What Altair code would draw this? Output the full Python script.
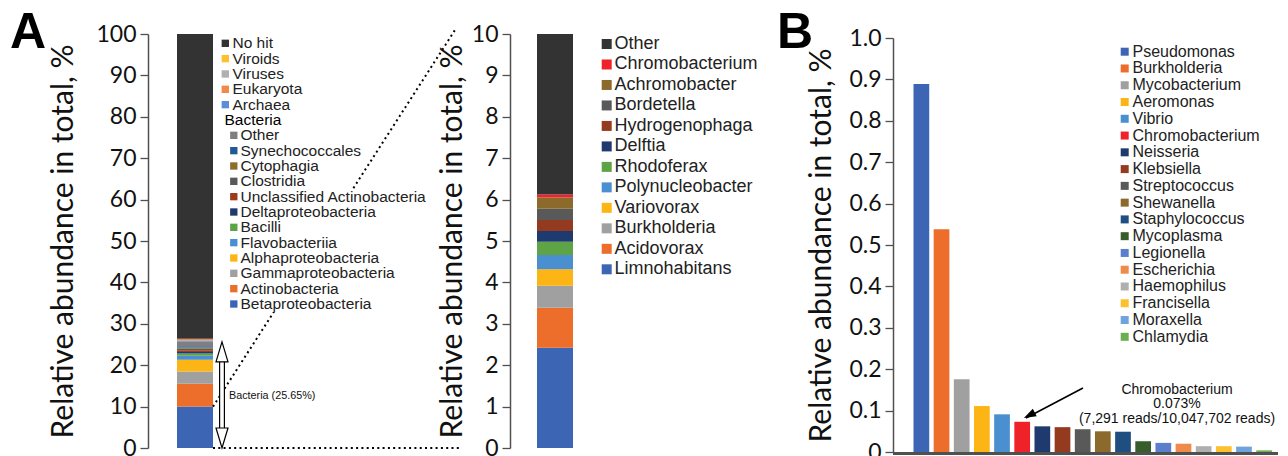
import altair as alt
import pandas as pd

AX_FONT = "Lato"
TX_FONT = "Liberation Sans"

# ---------------- Panel A: whole sample ----------------
a_labels = ["Betaproteobacteria", "Actinobacteria", "Gammaproteobacteria",
            "Alphaproteobacteria", "Flavobacteriia", "Bacilli",
            "Deltaproteobacteria", "Unclassified Actinobacteria", "Clostridia",
            "Cytophagia", "Synechococcales", "Other",
            "Archaea", "Eukaryota", "Viruses", "Viroids", "No hit"]
a_values = [10.0, 5.5, 3.0, 2.8, 1.0, 0.5, 0.4, 0.4, 0.35, 0.3, 0.3, 1.1,
            0.3, 0.4, 0.05, 0.01, 73.59]
a_colors = ["#3C66B4", "#ED6D2B", "#A0A0A0", "#FDB515", "#4A90D0", "#5EA345",
            "#1F3A6E", "#9E3A1E", "#595959", "#8C6D2C", "#1F5A96", "#7F7F7F",
            "#5B8ED6", "#F08A4B", "#B0B0B0", "#FDC02F", "#333333"]
a_top_items = ["No hit", "Viroids", "Viruses", "Eukaryota", "Archaea"]
a_header = "Bacteria"
a_sub_items = ["Other", "Synechococcales", "Cytophagia", "Clostridia",
               "Unclassified Actinobacteria", "Deltaproteobacteria", "Bacilli",
               "Flavobacteriia", "Alphaproteobacteria", "Gammaproteobacteria",
               "Actinobacteria", "Betaproteobacteria"]
a_ticks = list(range(0, 101, 10))
bacteria_total = 25.65
bacteria_text = "Bacteria (25.65%)"

# ---------------- Middle: Betaproteobacteria genera ----------------
m_labels = ["Limnohabitans", "Acidovorax", "Burkholderia", "Variovorax",
            "Polynucleobacter", "Rhodoferax", "Delftia", "Hydrogenophaga",
            "Bordetella", "Achromobacter", "Chromobacterium", "Other"]
m_values = [2.42, 0.97, 0.53, 0.40, 0.34, 0.32, 0.26, 0.27, 0.27, 0.27,
            0.073, 3.877]
m_colors = ["#3C66B4", "#ED6D2B", "#A0A0A0", "#FDB515", "#4A90D0", "#5EA345",
            "#1F3A6E", "#943A1F", "#595959", "#8B6A2B", "#EE2228", "#333333"]
m_ticks = list(range(0, 11))

# ---------------- Panel B: pathogenic genera ----------------
b_labels = ["Pseudomonas", "Burkholderia", "Mycobacterium", "Aeromonas",
            "Vibrio", "Chromobacterium", "Neisseria", "Klebsiella",
            "Streptococcus", "Shewanella", "Staphylococcus", "Mycoplasma",
            "Legionella", "Escherichia", "Haemophilus", "Francisella",
            "Moraxella", "Chlamydia"]
b_values = [0.889, 0.538, 0.176, 0.111, 0.091, 0.073, 0.062, 0.060, 0.055,
            0.050, 0.049, 0.026, 0.022, 0.020, 0.014, 0.014, 0.013, 0.004]
b_colors = ["#3C66B4", "#ED6D2B", "#A0A0A0", "#FDB515", "#4A90D0", "#EE2228",
            "#1F3A6E", "#943A1F", "#595959", "#8B6A2B", "#1F4E80", "#375E2A",
            "#5B7FCC", "#F08A4B", "#AFAFAF", "#FDC02F", "#6FA3DD", "#6BAF50"]
b_ticks = [round(i / 10, 1) for i in range(0, 11)]
b_note = "Chromobacterium\n0.073%\n(7,291 reads/10,047,702 reads)"
b_note_pos = 0.150
b_arrow_from = 0.1546
b_arrow_to = 0.0821

Y_TITLE = "Relative abundance in total, %"
H = 414
WA, WM, WB = 302, 323, 385
SP = 60

one = pd.DataFrame({"k": [0]})


def yaxis(values, pad, expr=None):
    kw = dict(values=values, title=Y_TITLE, grid=False, tickSize=8,
              tickColor="#505050", tickWidth=1.3, domainColor="#505050",
              domainWidth=1.5, labelFont=AX_FONT, labelFontSize=23,
              labelColor="#111111", labelPadding=4, titleFont=AX_FONT,
              titleFontSize=30, titleFontWeight="normal", titleColor="#111111",
              titlePadding=pad)
    if expr:
        kw["labelExpr"] = expr
    return alt.Axis(**kw)


# ===== Panel A =====
dfA = pd.DataFrame({"label": a_labels, "value": a_values, "color": a_colors,
                    "order": list(range(len(a_labels))), "g": "all"})
ydomA = alt.Scale(domain=[0, 100])

barA = alt.Chart(dfA).mark_bar().encode(
    x=alt.X("g:N", axis=None, scale=alt.Scale(range=[29, 65], paddingInner=0, paddingOuter=0)),
    y=alt.Y("value:Q", stack="zero", scale=ydomA, axis=yaxis(a_ticks, 17)),
    color=alt.Color("color:N", scale=None),
    order=alt.Order("order:Q"),
)

dot = dict(color="black", strokeWidth=2, strokeDash=[2, 3.3])
connUp = alt.Chart(one).mark_rule(**dot, y2Offset=-4).encode(
    x=alt.value(65), x2=alt.value(307),
    y=alt.Y(datum=a_values[0], type="quantitative", scale=ydomA),
    y2=alt.datum(100))
connLo = alt.Chart(one).mark_rule(**dot).encode(
    x=alt.value(65), x2=alt.value(312),
    y=alt.Y(datum=0, type="quantitative", scale=ydomA),
    y2=alt.datum(0))

shaftO = alt.Chart(one).mark_rule(color="black", strokeWidth=6).encode(
    x=alt.value(74), y=alt.Y(datum=4.3, type="quantitative", scale=ydomA),
    y2=alt.datum(bacteria_total - 4.3))
shaftI = alt.Chart(one).mark_rule(color="white", strokeWidth=3.6).encode(
    x=alt.value(74), y=alt.Y(datum=3.5, type="quantitative", scale=ydomA),
    y2=alt.datum(bacteria_total - 3.5))
headUp = alt.Chart(one).mark_point(
    shape="M0,-1L0.6,1L-0.6,1Z", size=400, filled=True, fill="white",
    stroke="black", strokeWidth=1.2, opacity=1, yOffset=10).encode(
    x=alt.value(74), y=alt.Y(datum=bacteria_total, type="quantitative", scale=ydomA))
headDn = alt.Chart(one).mark_point(
    shape="M0,1L0.6,-1L-0.6,-1Z", size=400, filled=True, fill="white",
    stroke="black", strokeWidth=1.2, opacity=1, yOffset=-10).encode(
    x=alt.value(74), y=alt.Y(datum=0, type="quantitative", scale=ydomA))
bactText = alt.Chart(one).mark_text(
    text=bacteria_text, align="left", baseline="middle", font=TX_FONT,
    fontSize=10.8, color="#111111").encode(
    x=alt.value(81), y=alt.Y(datum=12.6, type="quantitative", scale=ydomA))
letterA = alt.Chart(one).mark_text(
    text="A", align="left", baseline="top", font=TX_FONT, fontSize=50,
    fontWeight="bold", color="black").encode(x=alt.value(-138), y=alt.value(-26))

groupA1 = alt.layer(barA, connUp, connLo, shaftO, shaftI, headUp, headDn,
                    bactText, letterA)

legA_rows = ([{"label": t, "kind": "top"} for t in a_top_items]
             + [{"label": a_header, "kind": "hdr"}]
             + [{"label": t, "kind": "sub"} for t in a_sub_items])
cmapA = {l: c for l, c in zip(a_labels, a_colors)}
dfLA = pd.DataFrame(legA_rows)
dfLA["row"] = range(len(dfLA))
dfLA["color"] = [cmapA.get(l, "#000000") if k != "hdr" else "#000000"
                 for l, k in zip(dfLA["label"], dfLA["kind"])]
rowA = alt.Scale(domain=[0, len(dfLA) - 1], range=[9.3, 270])

cover = alt.Chart(one).mark_rect(color="white").encode(
    x=alt.value(71), x2=alt.value(281), y=alt.value(156), y2=alt.value(278))
sqTop = alt.Chart(dfLA).transform_filter("datum.kind == 'top'").mark_square(
    size=54, opacity=1).encode(
    x=alt.value(77.3), y=alt.Y("row:Q", scale=rowA, axis=None),
    color=alt.Color("color:N", scale=None))
txTop = alt.Chart(dfLA).transform_filter("datum.kind == 'top'").mark_text(
    align="left", baseline="middle", font=TX_FONT, fontSize=15.5,
    color="#222222").encode(
    x=alt.value(84.5), y=alt.Y("row:Q", scale=rowA, axis=None), text="label:N")
txHdr = alt.Chart(dfLA).transform_filter("datum.kind == 'hdr'").mark_text(
    align="left", baseline="middle", font=TX_FONT, fontSize=15.5,
    color="#000000").encode(
    x=alt.value(76.5), y=alt.Y("row:Q", scale=rowA, axis=None), text="label:N")
sqSub = alt.Chart(dfLA).transform_filter("datum.kind == 'sub'").mark_square(
    size=54, opacity=1).encode(
    x=alt.value(85.8), y=alt.Y("row:Q", scale=rowA, axis=None),
    color=alt.Color("color:N", scale=None))
txSub = alt.Chart(dfLA).transform_filter("datum.kind == 'sub'").mark_text(
    align="left", baseline="middle", font=TX_FONT, fontSize=15.5,
    color="#222222").encode(
    x=alt.value(92.5), y=alt.Y("row:Q", scale=rowA, axis=None), text="label:N")
groupA2 = alt.layer(cover, sqTop, txTop, txHdr, sqSub, txSub)

panelA = alt.layer(groupA1, groupA2).resolve_scale(
    y="independent", x="independent").properties(width=WA, height=H)

# ===== Middle panel =====
dfM = pd.DataFrame({"label": m_labels, "value": m_values, "color": m_colors,
                    "order": list(range(len(m_labels))), "g": "beta"})
barM = alt.Chart(dfM).mark_bar().encode(
    x=alt.X("g:N", axis=None, scale=alt.Scale(range=[27, 63], paddingInner=0, paddingOuter=0)),
    y=alt.Y("value:Q", stack="zero", scale=alt.Scale(domain=[0, 10]),
            axis=yaxis(m_ticks, 4)),
    color=alt.Color("color:N", scale=None),
    order=alt.Order("order:Q"),
)
dfLM = pd.DataFrame({"label": m_labels[::-1], "color": m_colors[::-1]})
dfLM["row"] = range(len(dfLM))
rowM = alt.Scale(domain=[0, len(dfLM) - 1], range=[10, 235.3])
sqM = alt.Chart(dfLM).mark_square(size=100, opacity=1).encode(
    x=alt.value(96.7), y=alt.Y("row:Q", scale=rowM, axis=None),
    color=alt.Color("color:N", scale=None))
txM = alt.Chart(dfLM).mark_text(align="left", baseline="middle", font=TX_FONT,
                                fontSize=18, color="#222222").encode(
    x=alt.value(104.5), y=alt.Y("row:Q", scale=rowM, axis=None), text="label:N")
panelM = alt.layer(barM, alt.layer(sqM, txM)).resolve_scale(
    y="independent", x="independent").properties(width=WM, height=H)

# ===== Panel B =====
dfB = pd.DataFrame({"label": b_labels, "value": b_values, "color": b_colors})
ydomB = alt.Scale(domain=[0, 1.0], range=[418, 4])
barB = alt.Chart(dfB).mark_bar().encode(
    x=alt.X("label:N", sort=b_labels, axis=None,
            scale=alt.Scale(range=[20.5, 379], paddingInner=0.22, paddingOuter=0)),
    y=alt.Y("value:Q", scale=ydomB,
            axis=yaxis(b_ticks, 12,
                       expr="datum.value == 0 ? '0' : format(datum.value, '.1f')")),
    color=alt.Color("color:N", scale=None),
)
baseB = alt.Chart(one).mark_rule(color="#505050", strokeWidth=3, yOffset=1.5).encode(
    x=alt.value(0), x2=alt.value(WB),
    y=alt.Y(datum=0, type="quantitative", scale=ydomB))
noteB = alt.Chart(one).mark_text(
    text=b_note, lineBreak="\n", lineHeight=14.5, align="center",
    baseline="middle", font=TX_FONT, fontSize=14, color="#111111").encode(
    x=alt.value(284), y=alt.Y(datum=b_note_pos, type="quantitative", scale=ydomB))
arrowB = alt.Chart(one).mark_rule(color="black", strokeWidth=1.6).encode(
    x=alt.value(190), x2=alt.value(133),
    y=alt.Y(datum=b_arrow_from, type="quantitative", scale=ydomB),
    y2=alt.datum(b_arrow_to))
arrowHead = alt.Chart(one).mark_point(
    shape="M0,-1L0.7,1L-0.7,1Z", size=150, filled=True, color="black",
    opacity=1, angle=243, xOffset=5.3, yOffset=-2.7).encode(
    x=alt.value(131), y=alt.Y(datum=b_arrow_to, type="quantitative", scale=ydomB))
letterB = alt.Chart(one).mark_text(
    text="B", align="left", baseline="top", font=TX_FONT, fontSize=50,
    fontWeight="bold", color="black").encode(x=alt.value(-116), y=alt.value(-26))
groupB1 = alt.layer(barB, baseB, noteB, arrowB, arrowHead, letterB)

dfLB = pd.DataFrame({"label": b_labels, "color": b_colors})
dfLB["row"] = range(len(dfLB))
rowB = alt.Scale(domain=[0, len(dfLB) - 1], range=[17.7, 302.8])
sqB = alt.Chart(dfLB).mark_square(size=64, opacity=1).encode(
    x=alt.value(231.7), y=alt.Y("row:Q", scale=rowB, axis=None),
    color=alt.Color("color:N", scale=None))
txB = alt.Chart(dfLB).mark_text(align="left", baseline="middle", font=TX_FONT,
                                fontSize=16, color="#222222").encode(
    x=alt.value(239.5), y=alt.Y("row:Q", scale=rowB, axis=None), text="label:N")
panelB = alt.layer(groupB1, alt.layer(sqB, txB)).resolve_scale(
    y="independent", x="independent").properties(width=WB, height=H)

chart = alt.hconcat(panelA, panelM, panelB, spacing=SP, bounds="flush").configure(
    padding={"left": 2, "top": 0, "right": 0, "bottom": 0}
).configure_view(stroke=None)

chart.save("out.html", embed_options={"renderer": "svg", "actions": False})
